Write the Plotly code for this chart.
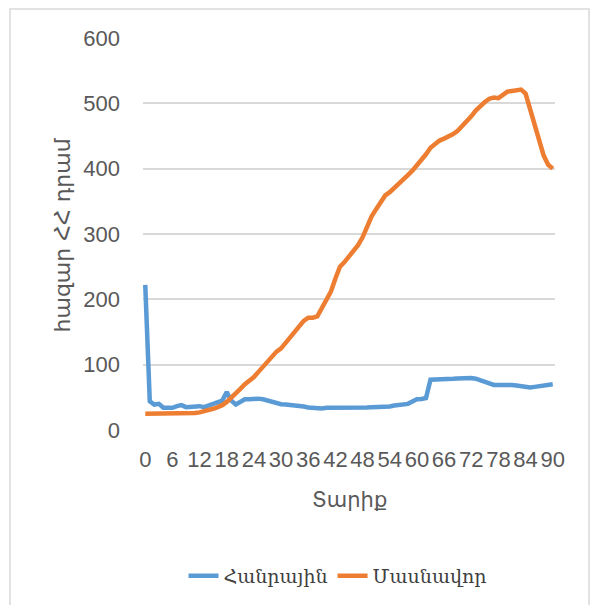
import plotly.graph_objects as go

ages = list(range(91))

public = [222, 44, 39, 40, 34, 34, 34, 36.5, 38, 35,
          35.5, 37.5, 36.5, 35, 37.5, 39.5, 41, 45, 58, 45,
          39, 43, 47, 47, 48, 48, 47, 45, 43, 41,
          39.5, 39, 38.5, 37.5, 36.5, 36, 34.5, 34, 33, 33,
          34, 34, 33.5, 33, 33, 33.5, 33.5, 34, 34, 34.5,
          35, 35, 35, 35.5, 36, 37.5, 38.5, 38.5, 40, 43.5,
          47, 47.5, 49, 77, 77, 78, 78, 78.5, 78.5, 79,
          79.5, 80, 79.5, 78.5, 76.5, 73.5, 71, 69, 69, 69.5,
          70, 69, 68, 67, 66, 65, 66, 67, 67.5, 69,
          70]

private = [25, 25, 25, 25, 25, 25, 25, 25, 25, 25,
           25, 26, 27, 28.5, 30.5, 32.5, 35, 38, 43, 49,
           56, 63, 70, 75, 81, 89, 97, 105, 113, 120,
           125, 133, 142, 151, 159, 167, 172, 172, 174, 186,
           197, 212, 232, 250, 257, 266, 275, 283, 295, 312,
           327, 338, 350, 359, 364, 370, 377, 384, 390, 397,
           405, 413, 422, 432, 438, 443, 446, 449, 453, 458,
           465, 472, 480, 489, 496, 502, 507, 509, 508, 512,
           518, 519, 520, 521, 515, 490, 470, 442, 420, 406,
           400]

xticks = list(range(0, 91, 6))
yticks = [0, 100, 200, 300, 400, 500, 600]

series_names = ["Հանրային", "Մասնավոր"]
colors = ["#5B9BD5", "#ED7D31"]
x_title = "Տարիք"
y_title = "հազար ՀՀ դրամ"

fig = go.Figure()
for name, vals, col in zip(series_names, [public, private], colors):
    fig.add_trace(go.Scatter(x=ages, y=vals, mode="lines", name=name,
                             line=dict(color=col, width=4.5)))

L, R, T, B = 143, 37, 38, 174
W, H = 592, 605
pw, ph = W - L - R, H - T - B

def px_x(x):
    return (x - L) / pw

def px_y(y):
    return (H - B - y) / ph

fig.update_layout(
    width=W, height=H,
    margin=dict(l=L, r=R, t=T, b=B, pad=0),
    paper_bgcolor="white", plot_bgcolor="white",
    font=dict(family="Liberation Sans", color="#595959", size=22),
    showlegend=True,
    legend=dict(orientation="h", x=px_x(338), xanchor="center",
                y=px_y(576), yanchor="middle",
                font=dict(family="DejaVu Serif", size=19, color="#404040"),
                itemwidth=30, bgcolor="rgba(0,0,0,0)"),
    xaxis=dict(range=[-0.5, 90.5], tickmode="array", tickvals=xticks,
               ticktext=[str(t) for t in xticks], showgrid=False,
               zeroline=False, showline=False, ticks="",
               ticklabelstandoff=14,
               tickfont=dict(size=22, color="#595959")),
    yaxis=dict(range=[0, 600], tickmode="array", tickvals=yticks,
               showgrid=True, gridcolor="#d9d9d9", gridwidth=1.5,
               zeroline=False, showline=False, ticks="",
               ticklabelstandoff=22,
               tickfont=dict(size=22, color="#595959")),
    shapes=[dict(type="rect", xref="paper", yref="paper",
                 x0=px_x(10), x1=px_x(589), y0=px_y(640), y1=px_y(9),
                 line=dict(color="#d9d9d9", width=1.5), fillcolor="rgba(0,0,0,0)",
                 layer="above")],
    annotations=[
        dict(text=x_title, xref="paper", yref="paper", x=px_x(349), y=px_y(501),
             xanchor="center", yanchor="middle", showarrow=False,
             font=dict(family="DejaVu Sans", size=21, color="#595959")),
        dict(text=y_title, xref="paper", yref="paper", x=px_x(62), y=px_y(236),
             xanchor="center", yanchor="middle", showarrow=False, textangle=-90,
             font=dict(family="DejaVu Sans", size=22, color="#595959")),
    ],
)

fig.write_html("out.html", config={"displayModeBar": False},
               post_script="document.body.style.margin='0px';")
